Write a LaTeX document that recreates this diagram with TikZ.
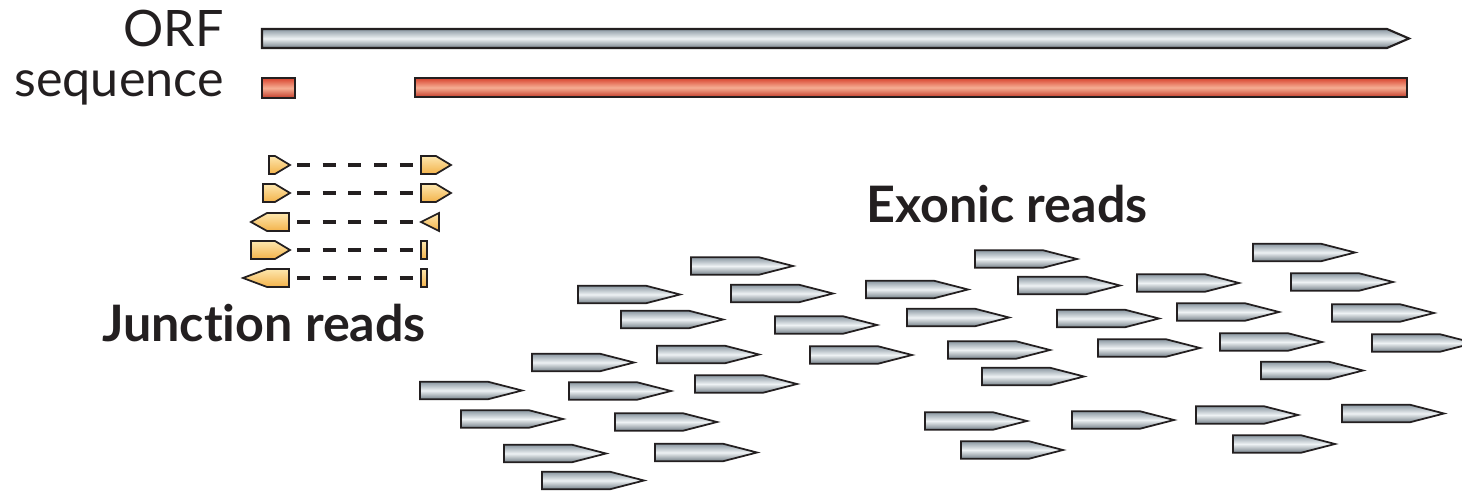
\documentclass[tikz,border=0pt]{standalone}
\usepackage{fontspec}
\setmainfont{Lato}[Ligatures=NoCommon]
\definecolor{inkdark}{HTML}{231F20}
\definecolor{readedge}{HTML}{8A97A1}
\definecolor{readmid}{HTML}{EEF2F4}
\definecolor{seqedge}{HTML}{D8432E}
\definecolor{seqmid}{HTML}{F6AE93}
\definecolor{juncdark}{HTML}{F3B24A}
\definecolor{junclight}{HTML}{FDE7AE}
\usetikzlibrary{positioning}

\begin{document}
\begin{tikzpicture}[
    x=0.02cm, y=-0.02cm,
    readbox/.style={draw=inkdark, line width=1pt, line join=miter,
                top color=readedge, bottom color=readedge!85!black, middle color=readmid},
    seqbox/.style={draw=inkdark, line width=1.2pt,
                top color=seqedge, bottom color=seqedge!90!black, middle color=seqmid},
    jpiece/.style={draw=inkdark, line width=1pt,
                top color=junclight, bottom color=juncdark},
    gapline/.style={draw=inkdark, line width=2.3pt, dash pattern=on 7.4pt off 7.25pt},
    tracklabel/.style={inner sep=0pt, text=inkdark, font=\fontsize{28.6}{32}\selectfont},
    setlabel/.style={inner sep=0pt, text=inkdark, font=\fontsize{28.6}{32}\selectfont\bfseries},
    exread/.pic={\path[readbox] (0,-8.75) -- (68,-8.75) -- (102,0) -- (68,8.75) -- (0,8.75) -- cycle;}
]
    \useasboundingbox (0,0) rectangle (1462,492);

    % tracks
    \node[tracklabel, anchor=base east] (orf) at (224,47) {ORF};
    \node[tracklabel, anchor=base east] (seq) at (224,97) {sequence};
    \path[readbox, line width=1.2pt] (262,29) -- (1387,29) -- (1409,38.5) -- (1387,48) -- (262,48) -- cycle;
    \path[seqbox] (262,78) rectangle (295,98);
    \path[seqbox] (415,78) rectangle (1407,97);

    % junction reads
    \path[jpiece] (269,156) -- (275,156) -- (290,165) -- (275,174) -- (269,174) -- cycle;
    \path[jpiece] (421,156) -- (436,156) -- (451,165) -- (436,174) -- (421,174) -- cycle;
    \path[jpiece] (263,184) -- (275,184) -- (290,193) -- (275,202) -- (263,202) -- cycle;
    \path[jpiece] (421,184) -- (436,184) -- (451,193) -- (436,202) -- (421,202) -- cycle;
    \path[jpiece] (251,222) -- (267,213) -- (289,213) -- (289,231) -- (267,231) -- cycle;
    \path[jpiece] (421,222) -- (439,213) -- (439,231) -- cycle;
    \path[jpiece] (251,241) -- (275,241) -- (290,250) -- (275,259) -- (251,259) -- cycle;
    \path[jpiece] (421,241) rectangle (427,259);
    \path[jpiece] (243,278) -- (267,269) -- (289,269) -- (289,287) -- (267,287) -- cycle;
    \path[jpiece] (421,269) rectangle (427,287);
    \foreach \y [count=\i] in {165,193,222,250,278} {
        \coordinate (jl\i) at (297,\y);
        \coordinate (jr\i) at (413,\y);
        \draw[gapline] (jl\i) -- (jr\i);
    }
    \node[setlabel, anchor=base west] (junction) at (102,342) {Junction reads};

    % exonic reads
    \foreach \x/\y [count=\i] in {691/266, 578/294.5, 731/293.5, 621/319.5, 775/325, 810/355,
        532/362.5, 657/354.5, 420/390.5, 569/391, 695/384, 461/419, 615/422, 504/453.5,
        655/452.5, 542/480.5, 975/259, 1253/252.5, 866/289.5, 1018/285.5, 1137/283,
        1291/282, 907/317.5, 1057/318.5, 1177/312, 1332/313, 948/350, 1098/348, 1220/342,
        1372/343, 982/376.5, 1261/370.5, 925/421, 1072/420, 1196/415, 1342/413.5,
        961/450, 1233/444}
        \pic (exon\i) at (\x,\y) {exread};
    \node[setlabel, anchor=base west] (exonic) at (866,223) {Exonic reads};
\end{tikzpicture}
\end{document}
